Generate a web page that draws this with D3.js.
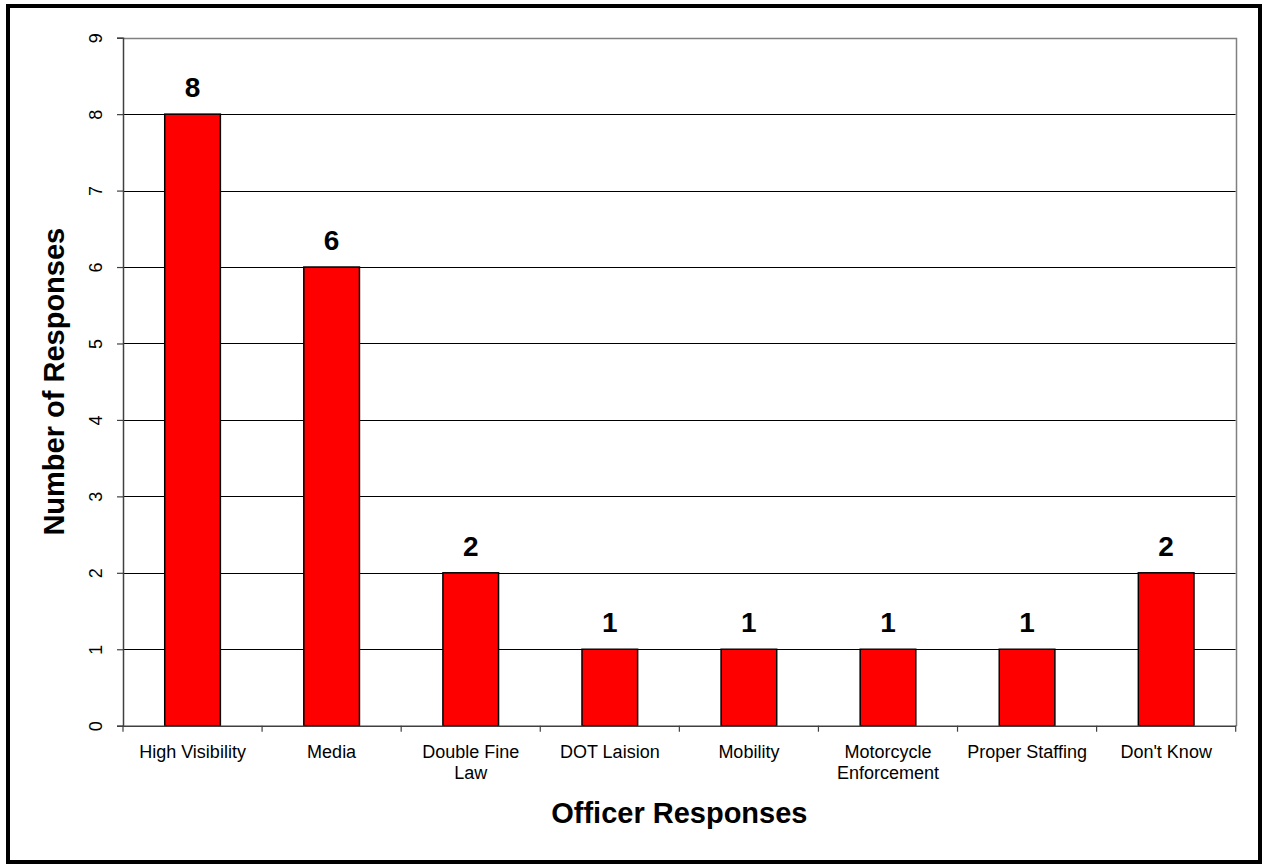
<!DOCTYPE html>
<html>
<head>
<meta charset="utf-8">
<script src="https://cdn.jsdelivr.net/npm/d3@7"></script>
<style>
  html, body { margin: 0; padding: 0; background: #fff; }
  svg { display: block; font-family: "Liberation Sans", Arial, sans-serif; }
</style>
</head>
<body>
<svg id="chart" width="1263" height="864"></svg>
<script>
const categories = ["High Visibility", "Media", "Double Fine Law", "DOT Laision", "Mobility", "Motorcycle Enforcement", "Proper Staffing", "Don't Know"];
const categoryLines = [["High Visibility"], ["Media"], ["Double Fine", "Law"], ["DOT Laision"], ["Mobility"], ["Motorcycle", "Enforcement"], ["Proper Staffing"], ["Don't Know"]];
const values = [8, 6, 2, 1, 1, 1, 1, 2];
const yTicks = [0, 1, 2, 3, 4, 5, 6, 7, 8, 9];
const xTitle = "Officer Responses";
const yTitle = "Number of Responses";

(function () {
const svg = d3.select("#chart");
const pLeft = 123, pRight = 1235.7, pTop = 37.7, pBottom = 725.7;

// outer border
svg.append("rect").attr("x", 8).attr("y", 6).attr("width", 1252).attr("height", 856)
  .attr("fill", "#fff").attr("stroke", "#000").attr("stroke-width", 4);

const x = d3.scaleBand().domain(categories).range([pLeft, pRight]).padding(0);
const y = d3.scaleLinear().domain([0, 9]).range([pBottom, pTop]);

// gridlines
svg.append("g").selectAll("line").data(yTicks.filter(t => t > 0 && t < 9)).join("line")
  .attr("x1", pLeft).attr("x2", pRight)
  .attr("y1", d => Math.round(y(d)) + 0.5).attr("y2", d => Math.round(y(d)) + 0.5)
  .attr("stroke", "#000").attr("stroke-width", 1);

// plot area border (top and right)
svg.append("path")
  .attr("d", `M${pLeft},${Math.round(pTop)+0.5}H${Math.round(pRight)+0.5}V${Math.round(pBottom)}`)
  .attr("fill", "none").attr("stroke", "#808080").attr("stroke-width", 1.5);

// bars
const bw = x.bandwidth() * 0.4;
svg.append("g").selectAll("rect").data(categories).join("rect")
  .attr("x", (d) => x(d) + (x.bandwidth() - bw) / 2)
  .attr("y", (d, i) => y(values[i]))
  .attr("width", bw)
  .attr("height", (d, i) => y(0) - y(values[i]))
  .attr("fill", "#ff0000").attr("stroke", "#000").attr("stroke-width", 1.5);

// value labels
svg.append("g").selectAll("text").data(categories).join("text")
  .attr("x", d => x(d) + x.bandwidth() / 2)
  .attr("y", (d, i) => y(values[i]) - 17)
  .attr("text-anchor", "middle")
  .attr("font-size", 28).attr("font-weight", "bold").attr("fill", "#000")
  .text((d, i) => values[i]);

// y axis
const yAxis = d3.axisLeft(y).tickValues(yTicks).tickSize(6).tickFormat(d3.format("d"));
const gy = svg.append("g").attr("transform", `translate(${pLeft},0)`).call(yAxis);
gy.select(".domain").attr("stroke", "#404040").attr("stroke-width", 1.5);
gy.selectAll(".tick line").attr("stroke", "#404040").attr("stroke-width", 1.2);
gy.selectAll(".tick text")
  .attr("font-size", 18).attr("fill", "#000")
  .attr("font-family", "'Liberation Sans', Arial, sans-serif")
  .attr("x", null).attr("dy", null)
  .attr("text-anchor", "middle")
  .attr("transform", "translate(-21,0) rotate(-90)")
  .attr("y", 0);

// x axis
const xAxis = d3.axisBottom(x).tickSize(0).tickFormat("");
const gx = svg.append("g").attr("transform", `translate(0,${pBottom})`).call(xAxis);
gx.select(".domain").attr("stroke", "#404040").attr("stroke-width", 1.5);
gx.selectAll(".tick").remove();
const bounds = categories.map(c => x(c)).concat([pRight]);
gx.append("g").selectAll("line").data(bounds).join("line")
  .attr("x1", d => d).attr("x2", d => d).attr("y1", 0).attr("y2", 6)
  .attr("stroke", "#404040").attr("stroke-width", 1.2);

// x labels
const xl = svg.append("g").selectAll("text").data(categories).join("text")
  .attr("x", d => x(d) + x.bandwidth() / 2)
  .attr("y", 758)
  .attr("text-anchor", "middle")
  .attr("font-size", 18).attr("fill", "#000");
xl.each(function(d, i) {
  const t = d3.select(this);
  categoryLines[i].forEach((line, j) => {
    t.append("tspan").attr("x", x(d) + x.bandwidth() / 2).attr("dy", j === 0 ? 0 : 21).text(line);
  });
});

// titles
svg.append("text").attr("x", (pLeft + pRight) / 2).attr("y", 823)
  .attr("text-anchor", "middle").attr("font-size", 29).attr("font-weight", "bold")
  .text(xTitle);
svg.append("text")
  .attr("transform", `translate(64,${(pTop + pBottom) / 2}) rotate(-90)`)
  .attr("text-anchor", "middle").attr("font-size", 29).attr("font-weight", "bold")
  .text(yTitle);
})();
</script>
</body>
</html>
